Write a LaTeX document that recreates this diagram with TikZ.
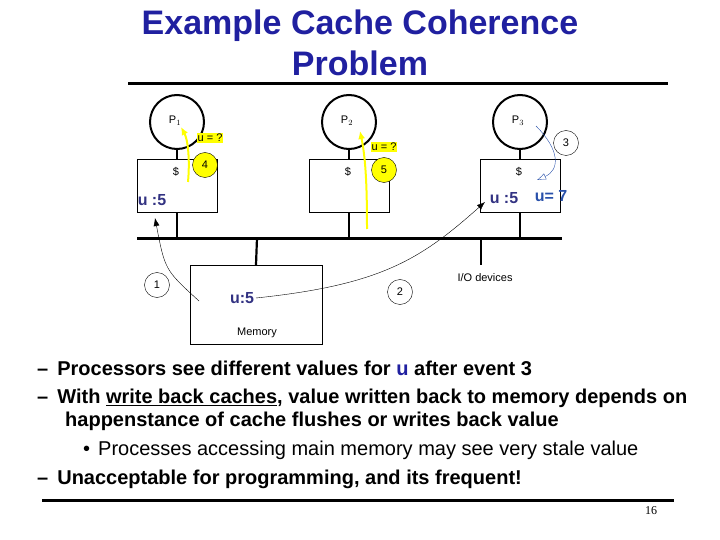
\documentclass[tikz,border=0pt]{standalone}
\usepackage{fontspec}
\setmainfont{Liberation Sans}
\newfontfamily\serif{Liberation Serif}
\usetikzlibrary{arrows.meta}
\definecolor{tblue}{RGB}{32,32,160}
\definecolor{ublue}{RGB}{50,50,130}
\definecolor{u7}{RGB}{40,80,170}
\definecolor{hy}{RGB}{255,255,0}
\begin{document}
\begin{tikzpicture}[x=1pt,y=-1pt,
  proc/.style={circle,draw,line width=2pt,minimum size=54pt,inner sep=0},
  cache/.style={draw,minimum width=80pt,minimum height=53pt,inner sep=0},
  ev/.style={circle,draw,minimum size=25pt,inner sep=0,font=\fontsize{11}{11}\selectfont},
  yev/.style={ev,fill=hy},
  thick3/.style={line width=2.2pt},
  small/.style={font=\fontsize{11}{12}\selectfont},
  uval/.style={text=ublue,font=\bfseries\fontsize{16}{16}\selectfont},
  body/.style={font=\bfseries\fontsize{20}{22}\selectfont,anchor=west,inner sep=0}]
\useasboundingbox (0,0) rectangle (720,540);
\node[text=tblue,font=\bfseries\fontsize{34}{41}\selectfont,align=center] (title) at (360,43) {Example Cache Coherence\\Problem};
\draw[line width=3pt] (128,84) -- (668,84);
\foreach \n/\x/\l in {1/177/P$_1$,2/349/P$_2$,3/520/P$_3$}{
  \node[proc] (p\n) at (\x,122) {};
  \node[small] at (\x-2,121) {\l};
  \node[cache] (c\n) at (\x+0,185.5) {};
  \node[small] at (\x-1,172) {\$};
  \draw[thick3] (p\n.south) -- (c\n.north);
  \coordinate (b\n) at (\x,238);
  \draw[thick3] (c\n.south) -- (b\n);
}
\coordinate (bl) at (137,238); \coordinate (br) at (562,238);
\draw[line width=3pt] (bl) -- (br);
\node[draw,minimum width=132pt,minimum height=79pt,inner sep=0] (mem) at (256,304.5) {};
\coordinate (mb) at (257,238);
\draw[thick3] (mb) -- (mem.north);
\node[small] at (257,333) {Memory};
\coordinate (io) at (481,238); \coordinate (iob) at (481,265);
\draw[thick3] (io) -- (iob);
\node[small,anchor=west] at (454,278) {I/O devices};
\node[uval] (u1) at (152,200) {u :5};
\node[uval] (u3) at (504,198) {u :5};
\node[text=u7,font=\bfseries\fontsize{16}{16}\selectfont] (u7) at (551,196) {u= 7};
\node[uval] (um) at (242,298) {u:5};
\node[ev] (e1) at (157,285) {1};
\node[ev] (e2) at (400,292) {2};
\node[ev] (e3) at (566,143) {3};
\node[yev] (e4) at (205,165) {4};
\node[yev] (e5) at (384,170) {5};
\node[fill=hy,inner sep=1pt,small] (q1) at (210,138) {u = ?};
\node[fill=hy,inner sep=1pt,small] (q2) at (384,147) {u = ?};
\coordinate (m1) at (199,301);
\coordinate (a1) at (155,218);
\draw[-{Latex[length=8pt]}] (m1) .. controls (165,270) .. (a1);
\coordinate (m2) at (256,298);
\coordinate (a2) at (485,202);
\draw[-{Latex[length=8pt]}] (m2) .. controls (380,285) and (420,260) .. (a2);
\coordinate (s3) at (536,126);
\coordinate (a3) at (537,180);
\draw[u7,-{Latex[open,length=9pt]}] (s3) .. controls (560,150) and (560,170) .. (a3);
\coordinate (y1s) at (188,182); \coordinate (y1e) at (181,127);
\draw[hy,line width=2pt,-{Latex[length=8pt,width=7pt]}] (y1s) .. controls (190,160) and (188,140) .. (y1e);
\coordinate (y2s) at (367,229); \coordinate (y2e) at (360,131);
\draw[hy,line width=2pt,-{Latex[length=8pt,width=7pt]}] (y2s) .. controls (367,190) and (366,160) .. (y2e);
\node[body] (t1) at (37,368) {–\hspace{9pt}Processors see different values for \textcolor{tblue}{u} after event 3};
\node[body] (t2) at (37,398) {–\hspace{9pt}With \underline{write back caches}, value written back to memory depends on};
\node[body] (t3) at (65,421) {happenstance of cache flushes or writes back value};
\node[anchor=west,inner sep=0,font=\fontsize{20}{22}\selectfont] (t4) at (83,450) {•\hspace{8pt}Processes accessing main memory may see very stale value};
\node[body] (t5) at (37,479) {–\hspace{9pt}Unacceptable for programming, and its frequent!};
\draw[line width=3pt] (42,500) -- (674,500);
\node[font=\serif\fontsize{12}{12}\selectfont] (pg) at (651,511) {16};
\end{tikzpicture}
\end{document}
